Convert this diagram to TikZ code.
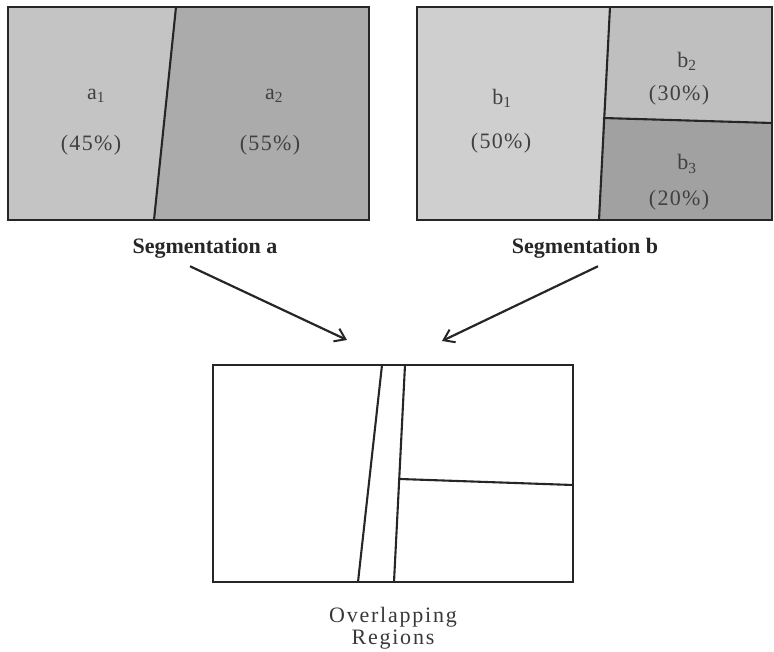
\documentclass[tikz,border=0pt]{standalone}
\usepackage{fontspec}
\setmainfont{Liberation Serif}
\usetikzlibrary{arrows.meta}
\definecolor{fa1}{gray}{0.77}
\definecolor{fa2}{gray}{0.67}
\definecolor{fb1}{gray}{0.81}
\definecolor{fb2}{gray}{0.75}
\definecolor{fb3}{gray}{0.63}
\tikzset{
  border/.style={line width=2.4pt, draw=black!85, line join=miter},
  divider/.style={line width=2.1pt, draw=black!85},
  lab/.style={font=\fontsize{22}{24}\selectfont\addfontfeature{LetterSpace=6}, text=black!75, inner sep=0pt},
  caption/.style={font=\fontsize{22}{26}\selectfont\bfseries, text=black!85, inner sep=0pt},
  capreg/.style={font=\fontsize{22}{26}\selectfont\addfontfeature{LetterSpace=8}, text=black!78, inner sep=0pt, align=center},
  conn/.style={line width=2.2pt, draw=black!85, -{Straight Barb[length=10pt,width=14pt,line width=2pt]}}
}
\begin{document}
\begin{tikzpicture}[x=1pt,y=-1pt]
\useasboundingbox (0,0) rectangle (774,652);
% Segmentation a
\coordinate (A1) at (8,7); \coordinate (A2) at (369,7);
\coordinate (A3) at (369,220); \coordinate (A4) at (8,220);
\coordinate (Ad1) at (176,7); \coordinate (Ad2) at (154,220);
\fill[fa1] (A1) -- (Ad1) -- (Ad2) -- (A4) -- cycle;
\fill[fa2] (Ad1) -- (A2) -- (A3) -- (Ad2) -- cycle;
\draw[divider] (Ad1) -- (Ad2);
\draw[border] (A1) rectangle (A3);
\node[lab] (la1) at (96,96) {a\textsubscript{1}};
\node[lab] (pa1) at (91,145) {(45\%)};
\node[lab] (la2) at (274,96) {a\textsubscript{2}};
\node[lab] (pa2) at (270,145) {(55\%)};
% Segmentation b
\coordinate (B1) at (417,7); \coordinate (B2) at (772,7);
\coordinate (B3) at (772,220); \coordinate (B4) at (417,220);
\coordinate (Bd1) at (610,7); \coordinate (Bd2) at (599,220);
\coordinate (Bh1) at (603,118); \coordinate (Bh2) at (772,123);
\fill[fb1] (B1) -- (Bd1) -- (Bd2) -- (B4) -- cycle;
\fill[fb2] (Bd1) -- (B2) -- (Bh2) -- (Bh1) -- cycle;
\fill[fb3] (Bh1) -- (Bh2) -- (B3) -- (Bd2) -- cycle;
\draw[divider] (Bd1) -- (Bd2);
\draw[divider] (Bh1) -- (Bh2);
\draw[border] (B1) rectangle (B3);
\node[lab] (lb1) at (502,98) {b\textsubscript{1}};
\node[lab] (pb1) at (501,143) {(50\%)};
\node[lab] (lb2) at (687,61) {b\textsubscript{2}};
\node[lab] (pb2) at (679,95) {(30\%)};
\node[lab] (lb3) at (687,164) {b\textsubscript{3}};
\node[lab] (pb3) at (679,200) {(20\%)};
% captions
\node[caption] (sega) at (205,248) {Segmentation a};
\node[caption] (segb) at (585,248) {Segmentation b};
% arrows
\coordinate (ta) at (347,340);
\coordinate (tb) at (442,341);
\draw[conn] (sega.south) ++(-15,8) coordinate (sa) -- (ta);
\draw[conn] (segb.south) ++(13,8) coordinate (sb) -- (tb);
% Overlapping regions
\coordinate (C1) at (213,365); \coordinate (C3) at (573,582);
\coordinate (Cd1) at (382,365); \coordinate (Cd2) at (358,582);
\coordinate (Ce1) at (405,365); \coordinate (Ce2) at (394,582);
\coordinate (Ch1) at (400,479); \coordinate (Ch2) at (573,485);
\draw[divider] (Cd1) -- (Cd2);
\draw[divider] (Ce1) -- (Ce2);
\draw[divider] (Ch1) -- (Ch2);
\draw[border] (C1) rectangle (C3);
\node[capreg] (ov) at (393,617) {Overlapping};
\node[capreg] (rg) at (393,640) {Regions};
\end{tikzpicture}
\end{document}
